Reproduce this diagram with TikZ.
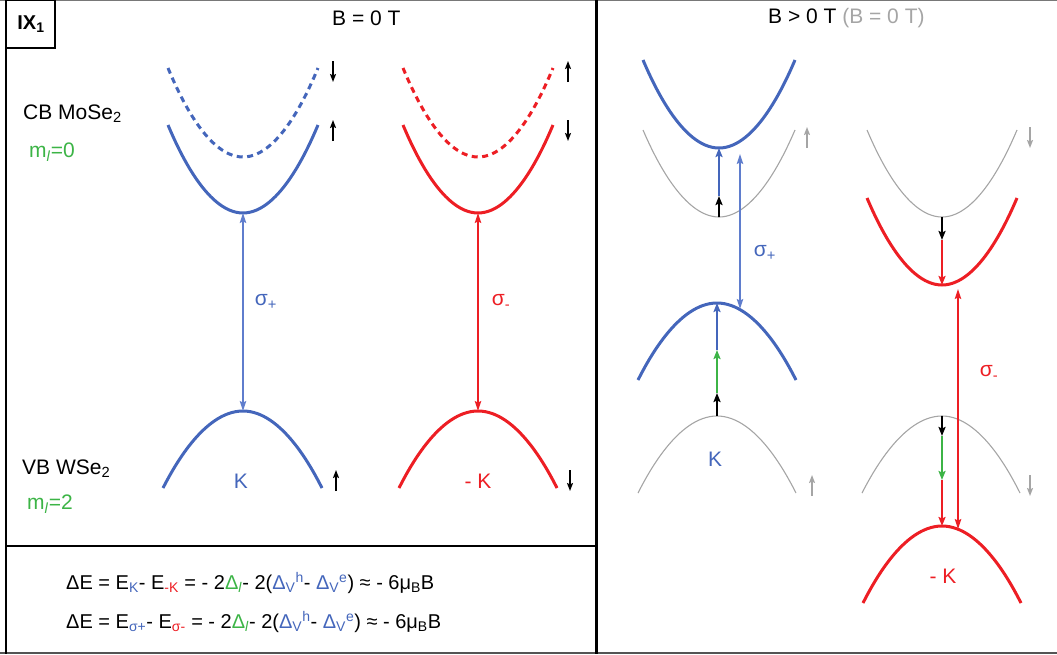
\documentclass[tikz,border=0pt]{standalone}
\usepackage{fontspec}
\setmainfont{Liberation Sans}
\usetikzlibrary{arrows.meta}
\definecolor{bandblue}{RGB}{68,102,187}
\definecolor{lineblue}{RGB}{95,125,205}
\definecolor{bandred}{RGB}{237,30,36}
\definecolor{bandgreen}{RGB}{60,180,70}
\definecolor{bandgray}{RGB}{165,165,165}
\definecolor{framegray}{RGB}{120,120,120}
\begin{document}
\begin{tikzpicture}[x=1pt,y=-1pt,
  thickband/.style={line width=3pt},
  dashband/.style={line width=3pt, dash pattern=on 6pt off 4.5pt},
  grayband/.style={line width=1.1pt, bandgray},
  trans/.style={line width=1.3pt, {Stealth[length=10pt,width=6.5pt,inset=1.5pt]}-{Stealth[length=10pt,width=6.5pt,inset=1.5pt]}},
  spin/.style={line width=1.6pt, -{Stealth[length=8pt,width=6pt,inset=1.5pt]}},
  shiftarr/.style={line width=2.6pt, -{Stealth[length=9pt,width=7pt,inset=1.5pt]}},
  lbl/.style={font=\fontsize{21}{24}\selectfont, inner sep=0pt},
  frame/.style={line width=2.5pt, black}
]
\useasboundingbox (0,0) rectangle (1057,654);

% frames
\draw[line width=1pt, framegray] (0,0.5) -- (1057,0.5);
\draw[line width=1.6pt, framegray!70!black] (0,653) -- (1057,653);
\draw[frame] (6,0) -- (6,654);
\draw[frame] (596.5,0) -- (596.5,654);
\draw[frame] (6,546) -- (596.5,546);
\draw[line width=2pt] (6,0) rectangle (55,48);
\node[lbl, font=\fontsize{20}{24}\selectfont\bfseries] (ix) at (31,24) {IX\textsubscript{1}};

% headers
\node[lbl, anchor=west] (hdl) at (332,18) {B = 0 T};
\node[lbl, anchor=west] (hdr) at (768,18) {B > 0 T \textcolor{bandgray}{(B = 0 T)}};

% left labels
\node[lbl, anchor=west] (cb) at (23,114) {CB MoSe\textsubscript{2}};
\node[lbl, anchor=west, text=bandgreen] (ml0) at (29,152) {m\textsubscript{\textit{l}}=0};
\node[lbl, anchor=west] (vb) at (22,469) {VB WSe\textsubscript{2}};
\node[lbl, anchor=west, text=bandgreen] (ml2) at (27,504) {m\textsubscript{\textit{l}}=2};

% ---------- left panel, K valley ----------
\coordinate (kdL) at (168,68);  \coordinate (kdM) at (243,157); \coordinate (kdR) at (318,68);
\coordinate (kcL) at (168,125); \coordinate (kcM) at (243,213); \coordinate (kcR) at (318,125);
\coordinate (kvL) at (163,488); \coordinate (kvM) at (243,411); \coordinate (kvR) at (322,488);
\draw[dashband, bandblue] (kdL) parabola bend (kdM) (kdR);
\draw[thickband, bandblue] (kcL) parabola bend (kcM) (kcR);
\draw[thickband, bandblue] (kvL) parabola bend (kvM) (kvR);
\draw[trans, lineblue] (kcM) -- (kvM);
\node[lbl, text=bandblue] (sp) at (266,302) {σ\textsubscript{+}};
\node[lbl, text=bandblue] (kl) at (241,481) {K};

% ---------- left panel, -K valley ----------
\coordinate (mdL) at (403,68);  \coordinate (mdM) at (478,157); \coordinate (mdR) at (553,68);
\coordinate (mcL) at (403,125); \coordinate (mcM) at (478,213); \coordinate (mcR) at (553,125);
\coordinate (mvL) at (399,488); \coordinate (mvM) at (478,411); \coordinate (mvR) at (557,488);
\draw[dashband, bandred] (mdL) parabola bend (mdM) (mdR);
\draw[thickband, bandred] (mcL) parabola bend (mcM) (mcR);
\draw[thickband, bandred] (mvL) parabola bend (mvM) (mvR);
\draw[trans, bandred] (mcM) -- (mvM);
\node[lbl, text=bandred] (sm) at (501,302) {σ\textsubscript{-}};
\node[lbl, text=bandred] (mkl) at (478,481) {- K};

% spin arrows left
\coordinate (s1a) at (333,61);  \coordinate (s1b) at (333,82);
\coordinate (s2a) at (333,141); \coordinate (s2b) at (333,120);
\coordinate (s3a) at (568,82);  \coordinate (s3b) at (568,61);
\coordinate (s4a) at (568,120); \coordinate (s4b) at (568,141);
\coordinate (s5a) at (336,491); \coordinate (s5b) at (336,470);
\coordinate (s6a) at (570,470); \coordinate (s6b) at (570,491);
\draw[spin] (s1a) -- (s1b);
\draw[spin] (s2a) -- (s2b);
\draw[spin] (s3a) -- (s3b);
\draw[spin] (s4a) -- (s4b);
\draw[spin] (s5a) -- (s5b);
\draw[spin] (s6a) -- (s6b);

% ---------- right panel, K ----------
\coordinate (rkbL) at (643,60);  \coordinate (rkbM) at (719,148); \coordinate (rkbR) at (795,60);
\coordinate (rkgL) at (643,130); \coordinate (rkgM) at (719,217); \coordinate (rkgR) at (795,130);
\coordinate (rkvL) at (638,380); \coordinate (rkvM) at (717,303); \coordinate (rkvR) at (796,380);
\coordinate (rkwL) at (638,493); \coordinate (rkwM) at (717,416); \coordinate (rkwR) at (796,493);
\draw[grayband] (rkgL) parabola bend (rkgM) (rkgR);
\draw[grayband] (rkwL) parabola bend (rkwM) (rkwR);
\draw[thickband, bandblue] (rkbL) parabola bend (rkbM) (rkbR);
\draw[thickband, bandblue] (rkvL) parabola bend (rkvM) (rkvR);
\coordinate (ka1) at (719,196);
\draw[shiftarr, black] (rkgM) -- (ka1);
\draw[shiftarr, bandblue] (ka1) -- (rkbM);
\coordinate (kb1) at (717,393); \coordinate (kb2) at (717,350);
\draw[shiftarr, black] (rkwM) -- (kb1);
\draw[shiftarr, bandgreen] (kb1) -- (kb2);
\draw[shiftarr, bandblue] (kb2) -- (rkvM);
\coordinate (spT) at (740,154); \coordinate (spB) at (740,309);
\draw[trans, lineblue] (spT) -- (spB);
\node[lbl, text=bandblue] (sp2) at (765,253) {σ\textsubscript{+}};
\node[lbl, text=bandblue] (kl2) at (715,459) {K};
\coordinate (g1a) at (807,148); \coordinate (g1b) at (807,127);
\coordinate (g2a) at (812,496); \coordinate (g2b) at (812,475);
\draw[spin, bandgray] (g1a) -- (g1b);
\draw[spin, bandgray] (g2a) -- (g2b);

% ---------- right panel, -K ----------
\coordinate (rmgL) at (867,130); \coordinate (rmgM) at (942,217); \coordinate (rmgR) at (1017,130);
\coordinate (rmrL) at (867,198); \coordinate (rmrM) at (942,285); \coordinate (rmrR) at (1017,198);
\coordinate (rmwL) at (862,493); \coordinate (rmwM) at (942,416); \coordinate (rmwR) at (1020,493);
\coordinate (rmvL) at (863,603); \coordinate (rmvM) at (942,526); \coordinate (rmvR) at (1021,603);
\draw[grayband] (rmgL) parabola bend (rmgM) (rmgR);
\draw[grayband] (rmwL) parabola bend (rmwM) (rmwR);
\draw[thickband, bandred] (rmrL) parabola bend (rmrM) (rmrR);
\draw[thickband, bandred] (rmvL) parabola bend (rmvM) (rmvR);
\coordinate (ma1) at (942,240);
\draw[shiftarr, black] (rmgM) -- (ma1);
\draw[shiftarr, bandred] (ma1) -- (rmrM);
\coordinate (mb1) at (942,436); \coordinate (mb2) at (942,480);
\draw[shiftarr, black] (rmwM) -- (mb1);
\draw[shiftarr, bandgreen] (mb1) -- (mb2);
\draw[shiftarr, bandred] (mb2) -- (rmvM);
\coordinate (smT) at (958,289); \coordinate (smB) at (958,529);
\draw[trans, bandred] (smT) -- (smB);
\node[lbl, text=bandred] (sm2) at (989,373) {σ\textsubscript{-}};
\node[lbl, text=bandred] (mkl2) at (943,576) {- K};
\coordinate (g3a) at (1030,127); \coordinate (g3b) at (1030,148);
\coordinate (g4a) at (1030,475); \coordinate (g4b) at (1030,496);
\draw[spin, bandgray] (g3a) -- (g3b);
\draw[spin, bandgray] (g4a) -- (g4b);

% ---------- formulas ----------
\node[lbl, anchor=west, font=\fontsize{20}{23}\selectfont] (f1) at (66,583)
 {ΔE = E\textsubscript{\textcolor{bandblue}{K}}- E\textsubscript{\textcolor{bandred}{-K}} = - 2\textcolor{bandgreen}{Δ\textsubscript{\textit{l}}}- 2(\textcolor{bandblue}{Δ\textsubscript{V}\textsuperscript{h}}- \textcolor{bandblue}{Δ\textsubscript{V}\textsuperscript{e}}) ≈ - 6μ\textsubscript{B}B};
\node[lbl, anchor=west, font=\fontsize{20}{23}\selectfont] (f2) at (66,622)
 {ΔE = E\textsubscript{\textcolor{bandblue}{σ+}}- E\textsubscript{\textcolor{bandred}{σ-}} = - 2\textcolor{bandgreen}{Δ\textsubscript{\textit{l}}}- 2(\textcolor{bandblue}{Δ\textsubscript{V}\textsuperscript{h}}- \textcolor{bandblue}{Δ\textsubscript{V}\textsuperscript{e}}) ≈ - 6μ\textsubscript{B}B};
\end{tikzpicture}
\end{document}
